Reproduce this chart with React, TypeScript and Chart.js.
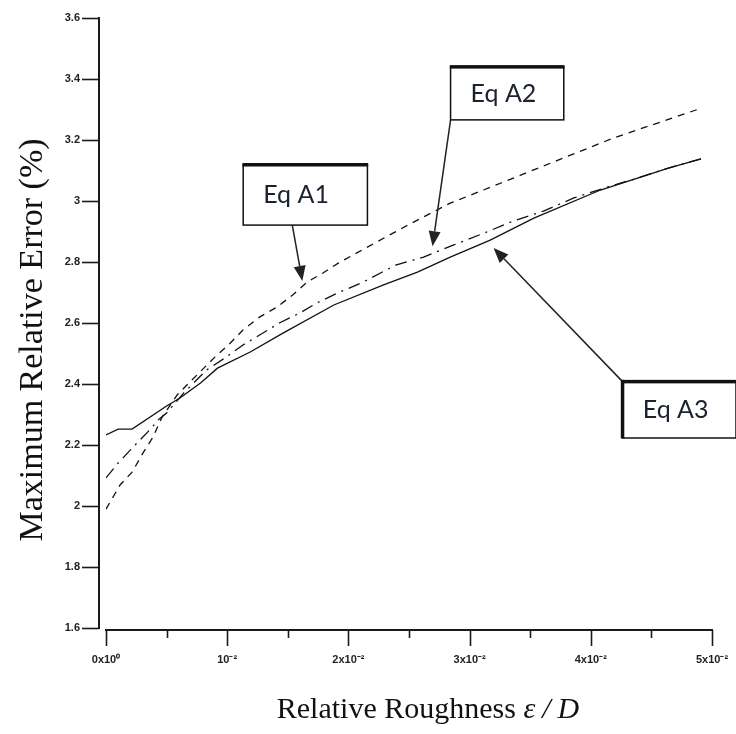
import React, { useEffect, useRef } from "react";
import { Chart, registerables } from "chart.js";

Chart.register(...registerables);

// ---- data ----
const xTickValues = [0, 0.01, 0.02, 0.03, 0.04, 0.05];
const xTickLabels = ["0x10⁰", "10⁻²", "2x10⁻²", "3x10⁻²", "4x10⁻²", "5x10⁻²"];
const xMinorTicks = [0.005, 0.015, 0.025, 0.035, 0.045];
const yTickValues = [1.6, 1.8, 2.0, 2.2, 2.4, 2.6, 2.8, 3.0, 3.2, 3.4, 3.6];
const yTickLabels = ["1.6", "1.8", "2", "2.2", "2.4", "2.6", "2.8", "3", "3.2", "3.4", "3.6"];

// Eq A1 (dashed)
const a1X = [0, 0.00116, 0.00215, 0.00306, 0.00388, 0.00463, 0.00587, 0.00694, 0.009, 0.0101, 0.0113, 0.0127, 0.0141, 0.0154, 0.0166, 0.0179, 0.0192, 0.0207, 0.0249, 0.0284, 0.0326, 0.0373, 0.0419, 0.0488];
const a1Y = [1.99, 2.069, 2.111, 2.174, 2.226, 2.292, 2.364, 2.407, 2.489, 2.528, 2.577, 2.62, 2.652, 2.692, 2.734, 2.764, 2.797, 2.83, 2.921, 2.993, 3.059, 3.134, 3.207, 3.3];

// Eq A2 (dash-dot)
const a2X = [0, 0.001, 0.00223, 0.0036, 0.0043, 0.005, 0.0064, 0.0083, 0.0098, 0.0113, 0.0124, 0.0143, 0.016, 0.0174, 0.0191, 0.0212, 0.0239, 0.0262, 0.0287, 0.0312, 0.0336, 0.0361, 0.0386, 0.0414, 0.0436, 0.0464, 0.0491];
const a2Y = [2.092, 2.141, 2.193, 2.249, 2.282, 2.305, 2.37, 2.446, 2.485, 2.528, 2.554, 2.6, 2.633, 2.666, 2.698, 2.734, 2.79, 2.816, 2.856, 2.895, 2.934, 2.967, 3.01, 3.046, 3.072, 3.108, 3.138];

// Eq A3 (solid)
const a3X = [0, 0.001, 0.00215, 0.005, 0.0061, 0.0078, 0.0092, 0.0119, 0.0146, 0.0188, 0.0229, 0.0257, 0.0284, 0.0317, 0.0353, 0.0408, 0.0464, 0.0491];
const a3Y = [2.233, 2.252, 2.252, 2.328, 2.354, 2.403, 2.452, 2.505, 2.567, 2.659, 2.725, 2.767, 2.816, 2.872, 2.944, 3.036, 3.108, 3.138];

const seriesNames = ["Eq A1", "Eq A2", "Eq A3"];

// annotation layout (in data coordinates)
const notes = [
  { text: "Eq A1", box: [0.01132, 3.118, 0.02157, 2.921], from: [0.01537, 2.921], to: [0.0162, 2.738], thickLeft: false },
  { text: "Eq A2", box: [0.02843, 3.439, 0.03777, 3.266], from: [0.02843, 3.266], to: [0.02694, 2.852], thickLeft: false },
  { text: "Eq A3", box: [0.04264, 2.407, 0.05198, 2.223], from: [0.04264, 2.407], to: [0.03198, 2.846], thickLeft: true },
];

const toPoints = (xs: number[], ys: number[]) => xs.map((x, i) => ({ x, y: ys[i] }));

function drawArrow(ctx: CanvasRenderingContext2D, x1: number, y1: number, x2: number, y2: number) {
  const ang = Math.atan2(y2 - y1, x2 - x1);
  const L = 15, W = 6;
  const bx = x2 - L * Math.cos(ang);
  const by = y2 - L * Math.sin(ang);
  ctx.beginPath();
  ctx.moveTo(x1, y1);
  ctx.lineTo(bx, by);
  ctx.stroke();
  ctx.beginPath();
  ctx.moveTo(x2, y2);
  ctx.lineTo(bx + W * Math.sin(ang), by - W * Math.cos(ang));
  ctx.lineTo(bx - W * Math.sin(ang), by + W * Math.cos(ang));
  ctx.closePath();
  ctx.fill();
}

const decorPlugin = {
  id: "decor",
  afterDraw(chart: any) {
    const ctx: CanvasRenderingContext2D = chart.ctx;
    const xs = chart.scales.x;
    const ys = chart.scales.y;
    const area = chart.chartArea;
    ctx.save();
    ctx.strokeStyle = "#1a1a1a";
    ctx.fillStyle = "#1a1a1a";

    // y axis (offset left)
    const axX = area.left - 7;
    ctx.lineWidth = 2;
    ctx.beginPath();
    ctx.moveTo(axX, ys.getPixelForValue(3.6) - 1);
    ctx.lineTo(axX, ys.getPixelForValue(1.6) + 1);
    ctx.stroke();
    ctx.lineWidth = 1.6;
    yTickValues.forEach((v) => {
      const py = Math.round(ys.getPixelForValue(v)) + 0.5;
      ctx.beginPath();
      ctx.moveTo(axX - 17, py);
      ctx.lineTo(axX, py);
      ctx.stroke();
    });

    // x axis (offset down)
    const axY = area.bottom + 2;
    ctx.lineWidth = 2;
    ctx.beginPath();
    ctx.moveTo(xs.getPixelForValue(0) - 1, axY);
    ctx.lineTo(xs.getPixelForValue(0.05) + 1, axY);
    ctx.stroke();
    ctx.lineWidth = 1.6;
    xTickValues.forEach((v) => {
      const px = Math.round(xs.getPixelForValue(v)) + 0.5;
      ctx.beginPath();
      ctx.moveTo(px, axY);
      ctx.lineTo(px, axY + 16);
      ctx.stroke();
    });
    xMinorTicks.forEach((v) => {
      const px = Math.round(xs.getPixelForValue(v)) + 0.5;
      ctx.beginPath();
      ctx.moveTo(px, axY);
      ctx.lineTo(px, axY + 8);
      ctx.stroke();
    });

    // axis titles
    ctx.fillStyle = "#111";
    ctx.save();
    ctx.translate(33, 340);
    ctx.rotate(-Math.PI / 2);
    ctx.font = "34px 'Liberation Serif'";
    ctx.textAlign = "center";
    ctx.textBaseline = "middle";
    ctx.fillText("Maximum Relative Error (%)", 0, 0);
    ctx.restore();

    const part1 = "Relative Roughness ";
    ctx.font = "30px 'Liberation Serif'";
    const w1 = ctx.measureText(part1).width;
    ctx.font = "italic 30px 'Liberation Serif'";
    const we = ctx.measureText("ε").width;
    const ws = ctx.measureText("/").width;
    const wd = ctx.measureText("D").width;
    const gap = 7;
    const total = w1 + we + gap + ws + gap + wd;
    let tx = 428 - total / 2;
    const ty = 718;
    ctx.textAlign = "left";
    ctx.textBaseline = "alphabetic";
    ctx.font = "30px 'Liberation Serif'";
    ctx.fillText(part1, tx, ty);
    tx += w1;
    ctx.font = "italic 30px 'Liberation Serif'";
    ctx.fillText("ε", tx, ty);
    tx += we + gap;
    ctx.fillText("/", tx, ty);
    tx += ws + gap;
    ctx.fillText("D", tx, ty);

    // annotations
    notes.forEach((n) => {
      const x1 = xs.getPixelForValue(n.box[0]);
      const y1 = ys.getPixelForValue(n.box[1]);
      const x2 = xs.getPixelForValue(n.box[2]);
      const y2 = ys.getPixelForValue(n.box[3]);
      ctx.strokeStyle = "#222";
      ctx.fillStyle = "#222";
      ctx.lineWidth = 1.5;
      drawArrow(ctx, xs.getPixelForValue(n.from[0]), ys.getPixelForValue(n.from[1]), xs.getPixelForValue(n.to[0]), ys.getPixelForValue(n.to[1]));
      ctx.fillStyle = "#fff";
      ctx.fillRect(x1, y1, x2 - x1, y2 - y1);
      ctx.strokeStyle = "#111";
      ctx.lineWidth = 1.5;
      ctx.strokeRect(x1, y1, x2 - x1, y2 - y1);
      ctx.fillStyle = "#111";
      ctx.fillRect(x1 - 0.75, y1 - 2, x2 - x1 + 1.5, 3.5);
      if (n.thickLeft) ctx.fillRect(x1 - 2, y1 - 2, 3.5, y2 - y1 + 2.5);
      ctx.fillStyle = "#1a2230";
      ctx.font = "25px Lato";
      ctx.textAlign = "left";
      ctx.textBaseline = "middle";
      ctx.fillText(n.text, x1 + 20, (y1 + y2) / 2);
    });
    ctx.restore();
  },
};

export default function App() {
  const ref = useRef<HTMLCanvasElement | null>(null);
  useEffect(() => {
    if (!ref.current) return;
    const lineColor = "#111";
    const chart = new Chart(ref.current, {
      type: "scatter",
      data: {
        datasets: [
          { label: seriesNames[0], data: toPoints(a1X, a1Y), showLine: true, borderColor: lineColor, borderWidth: 1.3, borderDash: [7, 6], pointRadius: 0, tension: 0 },
          { label: seriesNames[1], data: toPoints(a2X, a2Y), showLine: true, borderColor: lineColor, borderWidth: 1.3, borderDash: [12, 6, 2, 6], pointRadius: 0, tension: 0 },
          { label: seriesNames[2], data: toPoints(a3X, a3Y), showLine: true, borderColor: lineColor, borderWidth: 1.3, pointRadius: 0, tension: 0 },
        ],
      },
      options: {
        animation: false,
        responsive: true,
        maintainAspectRatio: false,
        layout: { padding: { top: 18, right: 24, left: 0, bottom: 0 } },
        plugins: { legend: { display: false }, tooltip: { enabled: false } },
        scales: {
          x: {
            type: "linear",
            min: 0,
            max: 0.05,
            grid: { display: false, drawTicks: false },
            border: { display: false },
            afterBuildTicks: (s: any) => {
              s.ticks = xTickValues.map((v) => ({ value: v }));
            },
            afterFit: (s: any) => {
              s.height = 106;
              s.paddingLeft = 0;
              s.paddingRight = 0;
              s.paddingTop = 0;
              s.paddingBottom = 0;
            },
            ticks: {
              padding: 25,
              maxRotation: 0,
              autoSkip: false,
              color: "#222",
              font: { family: "'Liberation Sans'", size: 11, weight: "bold" },
              callback: (value: any) => {
                const i = xTickValues.findIndex((v) => Math.abs(v - Number(value)) < 1e-9);
                return i >= 0 ? xTickLabels[i] : "";
              },
            },
          },
          y: {
            type: "linear",
            min: 1.6,
            max: 3.6,
            grid: { display: false, drawTicks: false },
            border: { display: false },
            afterBuildTicks: (s: any) => {
              s.ticks = yTickValues.map((v) => ({ value: v }));
            },
            afterFit: (s: any) => {
              s.width = 106;
              s.paddingLeft = 0;
              s.paddingRight = 0;
              s.paddingTop = 0;
              s.paddingBottom = 0;
            },
            ticks: {
              padding: 26,
              autoSkip: false,
              color: "#222",
              font: { family: "'Liberation Sans'", size: 11, weight: "bold" },
              callback: (value: any) => {
                const i = yTickValues.findIndex((v) => Math.abs(v - Number(value)) < 1e-9);
                return i >= 0 ? yTickLabels[i] : "";
              },
            },
          },
        },
      },
      plugins: [decorPlugin],
    } as any);
    return () => chart.destroy();
  }, []);
  return (
    <div style={{ position: "absolute", left: 0, top: 0, width: 736, height: 734, background: "#fff" }}>
      <canvas ref={ref} />
    </div>
  );
}
